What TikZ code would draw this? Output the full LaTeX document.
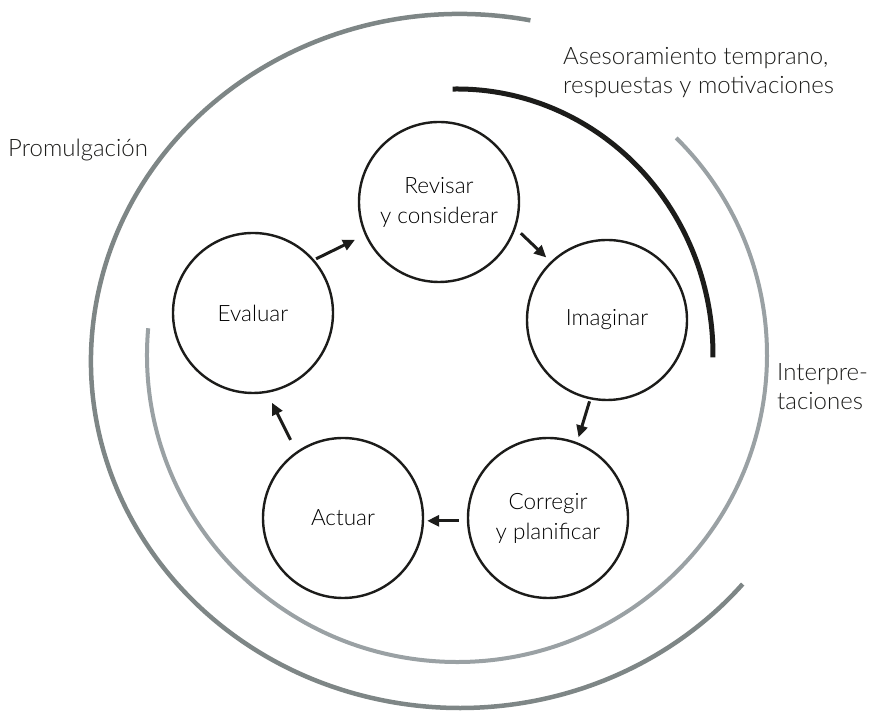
\documentclass[tikz,border=0pt]{standalone}
\usepackage{fontspec}
\IfFontExistsTF{Lato Light}{\setmainfont{Lato Light}}{\setmainfont{Lato}}
\usetikzlibrary{arrows.meta,calc}
\definecolor{ringdark}{RGB}{126,134,134}
\definecolor{ringlight}{RGB}{154,161,164}
\definecolor{inkblack}{RGB}{28,28,26}
\tikzset{
  stage/.style={circle, draw=inkblack, line width=2.4pt, minimum size=160pt,
    inner sep=0pt, align=center, font=\fontsize{22.5}{30}\selectfont},
  arr/.style={draw=inkblack, line width=3pt,
    -{Triangle[length=12pt,width=11pt]}},
  lbl/.style={inner sep=0pt, align=left, font=\fontsize{24}{29}\selectfont, text=inkblack},
}
\begin{document}
\begin{tikzpicture}[x=1pt,y=1pt]
\useasboundingbox (0,0) rectangle (870,714);

% outer ring: enactment
\coordinate (oc) at (460,353);
\draw[ringdark, line width=4.5pt] ($(oc)+(79:369 and 347)$)
  arc[start angle=79, end angle=320, x radius=369, y radius=347];

% middle ring: interpretations
\coordinate (mc) at (457,359);
\draw[ringlight, line width=4pt] ($(mc)+(175:310 and 307)$)
  arc[start angle=175, end angle=405, x radius=310, y radius=307];

% inner black arc: early advice
\draw[inkblack, line width=5pt] ($(mc)+(91:256 and 266)$)
  arc[start angle=91, end angle=-0.5, x radius=256, y radius=266];

% cycle stages
\node[stage] (rev) at (439,512) {Revisar\\y considerar};
\node[stage] (ima) at (607,394) {Imaginar};
\node[stage] (cor) at (548,196) {Corregir\\y planificar};
\node[stage] (act) at (343,196) {Actuar};
\node[stage] (eva) at (253,401) {Evaluar};

% cycle arrows
\draw[arr, shorten <=2pt, shorten >=11pt] (eva.41) -- (rev.204);
\draw[arr, shorten <=7pt, shorten >=6pt] (rev.-19) -- (ima.134);
\draw[arr, shorten <=2pt, shorten >=5pt] (ima.258) -- (cor.69);
\draw[arr, shorten <=8pt, shorten >=3pt] (cor.182) -- (act.-2);
\draw[arr, shorten <=13pt, shorten >=11pt] (act.125) -- (eva.280);

% ring labels
\node[lbl, anchor=west] (lprom) at (8,564) {Promulgación};
\node[lbl, anchor=west] (lases) at (563,641) {Asesoramiento temprano,\\respuestas y motivaciones};
\node[lbl, anchor=west] (linte) at (777,327) {Interpre-\\taciones};
\end{tikzpicture}
\end{document}
